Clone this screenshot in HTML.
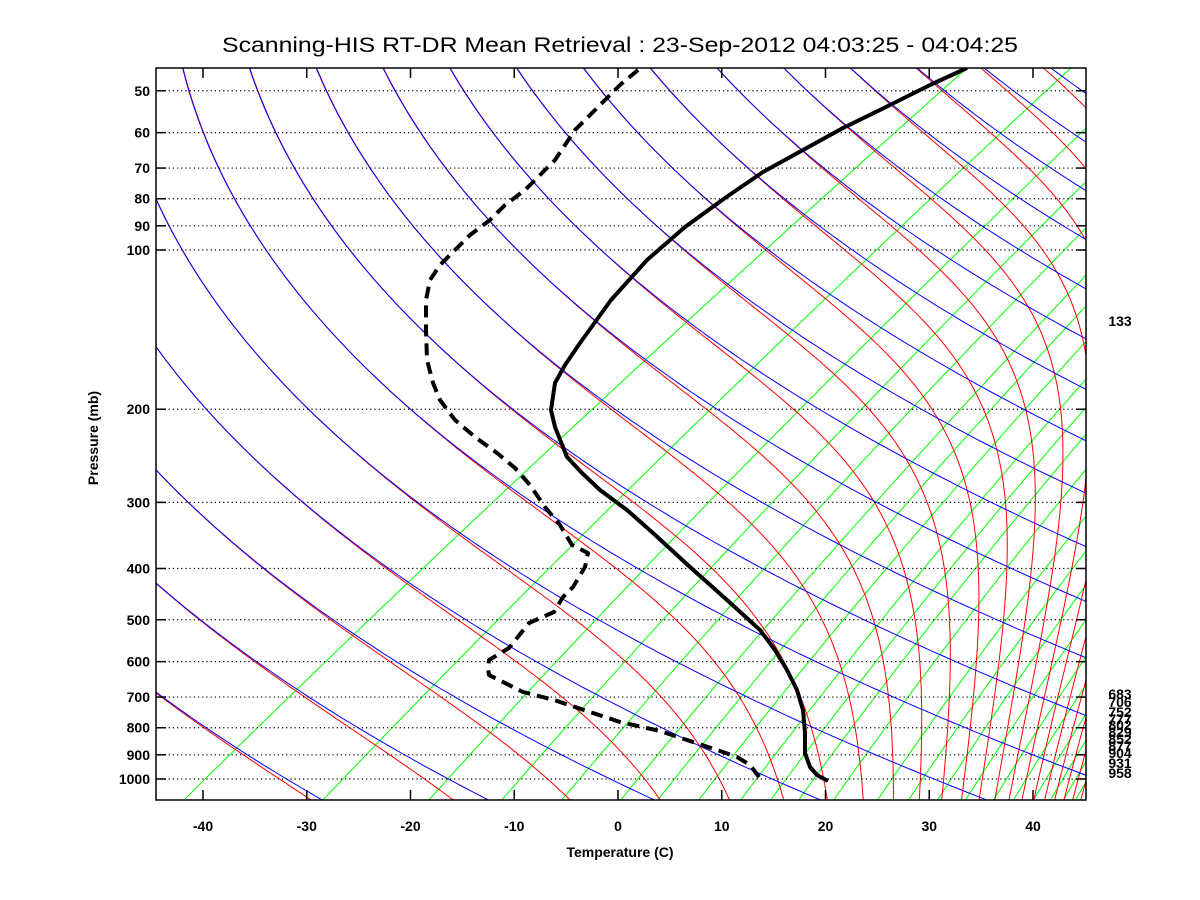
<!DOCTYPE html>
<html><head><meta charset="utf-8"><style>
body{margin:0;background:#fff}
svg{display:block}
text{font-family:"Liberation Sans",Arial,sans-serif;fill:#000}
.t{font-weight:bold;font-size:14px}
</style></head><body>
<svg id="s" width="1200" height="900" viewBox="0 0 1200 900" xmlns="http://www.w3.org/2000/svg">
<defs><clipPath id="c"><rect x="156" y="68" width="930" height="732"/></clipPath></defs>
<rect width="1200" height="900" fill="#fff"/>
<g id="bg" clip-path="url(#c)"></g>
<g id="grid"></g>
<g id="data" clip-path="url(#c)" fill="none" stroke="#000" stroke-width="4" stroke-linejoin="round">
<path d="M967,68 L930,85 L890,105 L843,128 L803,150 L763,172 L725,198 L685,227 L647,260 L611,300 L580,343 L565,365 L555,383 L551,410 L555,427 L567,457 L582,473 L600,490 L627,510 L653,533 L690,567 L727,600 L760,630 L775,650 L787,670 L797,690 L803,710 L805,733 L805,753 L810,767 L817,775 L828,781"/>
<path stroke-dasharray="12,7" d="M638,70 L620,85 L605,100 L590,115 L575,130 L565,145 L555,160 L540,175 L525,190 L505,205 L490,220 L470,235 L455,250 L440,265 L430,280 L426,300 L426,330 L427,360 L433,383 L440,400 L455,420 L475,437 L497,453 L515,468 L530,485 L545,507 L560,525 L572,545 L588,553 L585,567 L573,587 L563,597 L554,612 L529,623 L509,648 L489,660 L488,668 L489,675 L509,685 L523,692 L554,700 L590,712 L620,722 L660,731 L687,740 L717,750 L737,757 L750,765 L762,781"/>
</g>
<rect x="156" y="68" width="930" height="732" fill="none" stroke="#000" stroke-width="1.5"/>
<text x="620" y="52" font-size="21" text-anchor="middle" textLength="796" lengthAdjust="spacingAndGlyphs">Scanning-HIS RT-DR Mean Retrieval : 23-Sep-2012 04:03:25 - 04:04:25</text>
<text class="t" x="620" y="857" text-anchor="middle">Temperature (C)</text>
<text class="t" transform="translate(98,438) rotate(-90)" text-anchor="middle">Pressure (mb)</text>
<g id="lab" class="t"></g>
</svg>
<script>
var NS="http://www.w3.org/2000/svg";
function L10(v){return Math.log(v)/Math.LN10;}
var C=74;
function xo(X){return 618+10.375*X;}
function yo(p){return 779-529*L10(1000/p);}
function XT(T,p){return T+C*L10(1000/p);}
function add(g,tag,at,txt){var e=document.createElementNS(NS,tag);for(var k in at)e.setAttribute(k,at[k]);if(txt!==undefined)e.textContent=txt;document.getElementById(g).appendChild(e);return e;}
function poly(g,pts,col,dx){dx=dx||0;var d="";for(var i=0;i<pts.length;i++)d+=(i?"L":"M")+(pts[i][0]+dx).toFixed(1)+","+pts[i][1].toFixed(1);add(g,"path",{d:d,fill:"none",stroke:col,"stroke-width":"1"});}
var PB=1100,PT=44;
function es(Tc){return 6.112*Math.exp(17.67*Tc/(Tc+243.5));}
var gx=[183,322,428,501,561,620,657,698,740,770,798,833,877,908,937,965,993,1013,1033,1050,1063,1075];
gx.forEach(function(x){var X=(x-618)/10.375;var Td=X-C*L10(1000/PB);var e=es(Td);var w=0.622*e/(PB-e);
 var pts=[];for(var p=PB;p>=PT;p*=0.98){var ee=w*p/(0.622+w);var a=Math.log(ee/6.112);var t=243.5*a/(17.67-a);pts.push([xo(XT(t,p)),yo(p)]);}
 poly("bg",pts,"#00ff00");});
function f(T,p){var Rd=287,cp=1004,Lv=2.5e6;var Tc=T-273.15;var e=es(Tc);if(e>p*0.5)e=p*0.5;var rs=0.622*e/(p-e);return (Rd*T+Lv*rs)/(p*(cp+Lv*Lv*rs*0.622/(Rd*T*T)));}
function moistDown(th){var p=20,T=th*Math.pow(p/1000,0.286);var pts=[];
 while(p<PB+2){if(p>=PT-2)pts.push([xo(XT(T-273.15,p)),yo(p)]);var dp=p<100?0.5:2;var k1=f(T,p);var k2=f(T+k1*dp/2,p+dp/2);T+=k2*dp;p+=dp;}
 return pts;}
function dry(th){var pts=[];for(var p=PB;p>=PT;p*=0.98){var T=th*Math.pow(p/1000,0.286)-273.15;pts.push([xo(XT(T,p)),yo(p)]);}return pts;}
for(var k=-8;k<=26;k++){poly("bg",moistDown(241.2+15.6*k),"#ff0000",0.6);}
for(var k=-8;k<=26;k++){poly("bg",dry(241.2+15.6*k),"#0000ff");}
var P=[50,60,70,80,90,100,200,300,400,500,600,700,800,900,1000];
P.forEach(function(p){var y=yo(p);add("grid","line",{x1:156,x2:1086,y1:y,y2:y,stroke:"#000","stroke-width":"1.2","stroke-dasharray":"1.2,3"});
 add("grid","line",{x1:156,x2:166,y1:y,y2:y,stroke:"#000","stroke-width":"1.5"});add("grid","line",{x1:1076,x2:1086,y1:y,y2:y,stroke:"#000","stroke-width":"1.5"});
 add("lab","text",{x:150,y:y+5,"text-anchor":"end"},String(p));});
for(var T=-40;T<=40;T+=10){var x=xo(T);add("grid","line",{x1:x,x2:x,y1:790,y2:800,stroke:"#000","stroke-width":"1.5"});add("grid","line",{x1:x,x2:x,y1:68,y2:78,stroke:"#000","stroke-width":"1.5"});
 add("lab","text",{x:x,y:831,"text-anchor":"middle"},String(T));}
add("lab","text",{x:1120,y:326,"text-anchor":"middle"},"133");
var rl=[["683",699],["706",707],["752",717],["777",724],["802",730],["829",737],["852",744],["877",751],["904",758],["931",768],["958",778]];
rl.forEach(function(r){add("lab","text",{x:1120,y:r[1],"text-anchor":"middle"},r[0]);});
</script>
</body></html>
